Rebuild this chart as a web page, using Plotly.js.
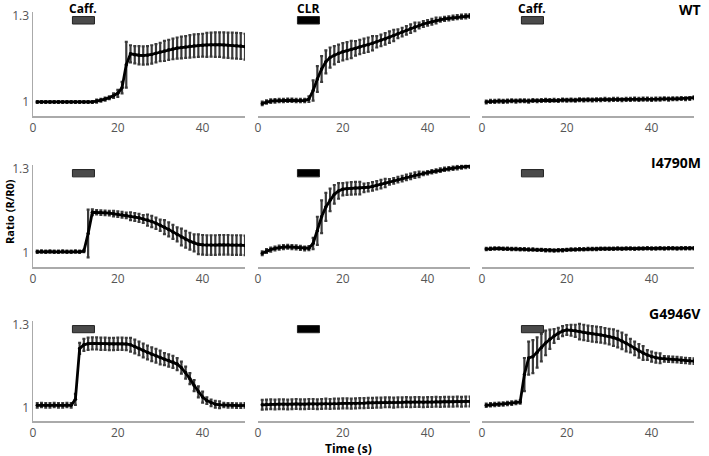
<!DOCTYPE html>
<html><head><meta charset="utf-8">
<script src="https://cdn.plot.ly/plotly-3.0.1.min.js"></script>
<style>html,body{margin:0;padding:0;background:#fff}#chart{width:709px;height:456px}</style>
</head><body><div id="chart"></div>
<script>
// time (s)
const time = [1,2,3,4,5,6,7,8,9,10,11,12,13,14,15,16,17,18,19,20,21,22,23,24,25,26,27,28,29,30,31,32,33,34,35,36,37,38,39,40,41,42,43,44,45,46,47,48,49,50];

// WT
const wtCaffMean = [1.0,1.0,1.0,1.0,1.0,1.0,1.0,1.0,1.0,1.0,1.0,1.0,1.0,1.0,1.003,1.006,1.01,1.015,1.022,1.03,1.05,1.13,1.168,1.165,1.163,1.162,1.163,1.166,1.17,1.174,1.178,1.182,1.185,1.188,1.19,1.192,1.194,1.196,1.197,1.198,1.199,1.2,1.2,1.2,1.199,1.198,1.197,1.196,1.195,1.193];
const wtCaffErr = [0.003,0.003,0.003,0.003,0.003,0.003,0.003,0.003,0.003,0.003,0.003,0.003,0.003,0.003,0.005,0.005,0.005,0.005,0.008,0.012,0.02,0.08,0.03,0.03,0.032,0.032,0.032,0.032,0.032,0.032,0.035,0.035,0.036,0.037,0.038,0.038,0.039,0.04,0.04,0.04,0.042,0.042,0.043,0.043,0.044,0.044,0.045,0.045,0.045,0.045];
const wtClrMean = [0.995,1.0,1.003,1.004,1.005,1.005,1.006,1.006,1.005,1.005,1.005,1.01,1.04,1.08,1.115,1.14,1.155,1.163,1.17,1.175,1.179,1.183,1.187,1.192,1.196,1.2,1.205,1.21,1.215,1.22,1.226,1.232,1.238,1.244,1.25,1.256,1.262,1.267,1.272,1.276,1.28,1.284,1.287,1.29,1.292,1.294,1.296,1.298,1.299,1.3];
const wtClrErr = [0.006,0.006,0.006,0.006,0.006,0.006,0.006,0.006,0.006,0.006,0.006,0.01,0.035,0.045,0.045,0.04,0.035,0.032,0.03,0.03,0.03,0.03,0.025,0.025,0.025,0.025,0.025,0.02,0.02,0.02,0.02,0.02,0.015,0.015,0.015,0.015,0.015,0.01,0.01,0.01,0.01,0.01,0.007,0.007,0.007,0.007,0.007,0.007,0.007,0.007];
const wtCaff2Mean = [1.0,1.002,1.002,1.003,1.002,1.003,1.004,1.003,1.004,1.004,1.003,1.005,1.004,1.005,1.006,1.005,1.006,1.005,1.007,1.006,1.007,1.006,1.008,1.007,1.008,1.007,1.008,1.008,1.009,1.008,1.009,1.009,1.008,1.009,1.009,1.01,1.009,1.01,1.01,1.009,1.01,1.01,1.011,1.01,1.011,1.011,1.012,1.011,1.012,1.015];
const wtCaff2Err = [0.005,0.005,0.005,0.005,0.005,0.005,0.005,0.005,0.005,0.005,0.005,0.005,0.005,0.005,0.005,0.005,0.005,0.005,0.005,0.005,0.005,0.005,0.005,0.005,0.005,0.005,0.005,0.005,0.005,0.005,0.005,0.005,0.005,0.005,0.005,0.005,0.005,0.005,0.005,0.005,0.005,0.005,0.005,0.005,0.005,0.005,0.005,0.005,0.005,0.005];

// I4790M
const i479CaffMean = [1.005,1.006,1.005,1.006,1.005,1.005,1.006,1.005,1.005,1.006,1.005,1.008,1.07,1.146,1.146,1.145,1.144,1.143,1.141,1.139,1.137,1.135,1.132,1.129,1.126,1.122,1.118,1.113,1.107,1.1,1.093,1.085,1.076,1.067,1.058,1.05,1.043,1.037,1.032,1.03,1.029,1.029,1.029,1.03,1.03,1.03,1.029,1.029,1.029,1.028];
const i479CaffErr = [0.004,0.004,0.004,0.004,0.004,0.004,0.004,0.004,0.004,0.004,0.004,0.004,0.085,0.01,0.008,0.008,0.008,0.008,0.01,0.01,0.01,0.01,0.014,0.014,0.014,0.014,0.02,0.02,0.02,0.02,0.025,0.025,0.025,0.025,0.03,0.03,0.03,0.03,0.035,0.035,0.035,0.035,0.035,0.035,0.035,0.035,0.035,0.035,0.035,0.035];
const i479ClrMean = [1.0,1.008,1.013,1.017,1.02,1.022,1.023,1.022,1.021,1.019,1.017,1.018,1.035,1.08,1.13,1.165,1.19,1.21,1.222,1.228,1.23,1.231,1.232,1.232,1.233,1.235,1.238,1.242,1.246,1.25,1.254,1.258,1.262,1.266,1.27,1.274,1.278,1.281,1.284,1.287,1.29,1.293,1.296,1.299,1.301,1.303,1.305,1.307,1.309,1.31];
const i479ClrErr = [0.007,0.007,0.007,0.007,0.007,0.007,0.007,0.007,0.007,0.007,0.007,0.007,0.02,0.05,0.058,0.05,0.04,0.033,0.028,0.022,0.022,0.022,0.022,0.022,0.015,0.015,0.015,0.015,0.015,0.015,0.01,0.01,0.01,0.01,0.01,0.01,0.01,0.01,0.006,0.006,0.006,0.006,0.006,0.006,0.006,0.006,0.006,0.006,0.006,0.006];
const i479Caff2Mean = [1.015,1.016,1.017,1.017,1.016,1.016,1.015,1.015,1.014,1.014,1.013,1.013,1.012,1.012,1.011,1.011,1.01,1.011,1.011,1.012,1.013,1.013,1.014,1.014,1.015,1.015,1.015,1.016,1.016,1.016,1.016,1.017,1.016,1.017,1.017,1.016,1.017,1.017,1.018,1.017,1.017,1.018,1.017,1.018,1.018,1.017,1.018,1.018,1.018,1.018];
const i479Caff2Err = [0.004,0.004,0.004,0.004,0.004,0.004,0.004,0.004,0.004,0.004,0.004,0.004,0.004,0.004,0.004,0.004,0.004,0.004,0.004,0.004,0.004,0.004,0.004,0.004,0.004,0.004,0.004,0.004,0.004,0.004,0.004,0.004,0.004,0.004,0.004,0.004,0.004,0.004,0.004,0.004,0.004,0.004,0.004,0.004,0.004,0.004,0.004,0.004,0.004,0.004];

// G4946V
const g494CaffMean = [1.008,1.009,1.008,1.008,1.009,1.008,1.008,1.009,1.008,1.03,1.215,1.228,1.232,1.233,1.233,1.232,1.232,1.231,1.231,1.232,1.232,1.231,1.228,1.222,1.215,1.207,1.2,1.194,1.188,1.182,1.176,1.171,1.166,1.158,1.145,1.127,1.105,1.08,1.057,1.038,1.025,1.017,1.012,1.01,1.009,1.008,1.008,1.007,1.007,1.008];
const g494CaffErr = [0.008,0.008,0.008,0.008,0.008,0.008,0.008,0.008,0.008,0.02,0.02,0.022,0.022,0.022,0.022,0.022,0.022,0.022,0.022,0.022,0.022,0.022,0.025,0.025,0.025,0.025,0.025,0.025,0.025,0.025,0.022,0.022,0.022,0.022,0.022,0.022,0.02,0.02,0.02,0.02,0.012,0.012,0.012,0.012,0.008,0.008,0.008,0.008,0.008,0.008];
const g494ClrMean = [1.01,1.011,1.012,1.011,1.012,1.012,1.011,1.012,1.013,1.012,1.012,1.013,1.013,1.012,1.013,1.014,1.013,1.014,1.014,1.015,1.015,1.014,1.015,1.016,1.016,1.017,1.017,1.018,1.018,1.019,1.019,1.018,1.019,1.019,1.02,1.019,1.02,1.02,1.019,1.02,1.02,1.021,1.02,1.021,1.021,1.021,1.022,1.021,1.022,1.022];
const g494ClrErr = [0.018,0.018,0.018,0.018,0.018,0.018,0.018,0.018,0.018,0.018,0.018,0.018,0.018,0.018,0.018,0.018,0.018,0.018,0.018,0.018,0.018,0.018,0.018,0.018,0.018,0.018,0.018,0.018,0.018,0.018,0.018,0.018,0.018,0.018,0.018,0.018,0.018,0.018,0.018,0.018,0.018,0.018,0.018,0.018,0.018,0.018,0.018,0.018,0.018,0.018];
const g494Caff2Mean = [1.008,1.01,1.011,1.012,1.013,1.015,1.016,1.018,1.02,1.12,1.18,1.185,1.2,1.218,1.235,1.248,1.26,1.27,1.278,1.282,1.281,1.279,1.276,1.273,1.27,1.268,1.266,1.264,1.261,1.258,1.254,1.249,1.242,1.234,1.225,1.215,1.206,1.198,1.191,1.185,1.181,1.179,1.177,1.176,1.175,1.174,1.172,1.171,1.17,1.169];
const g494Caff2Err = [0.006,0.006,0.006,0.006,0.006,0.006,0.006,0.006,0.006,0.06,0.06,0.06,0.055,0.05,0.045,0.035,0.025,0.02,0.018,0.018,0.02,0.022,0.028,0.028,0.028,0.028,0.028,0.028,0.028,0.028,0.03,0.03,0.03,0.03,0.025,0.025,0.025,0.025,0.018,0.018,0.018,0.018,0.01,0.01,0.01,0.01,0.01,0.01,0.01,0.01];

// stimulus bars
const stimStart = 9.3, stimEnd = 14.5, stimLow = 1.272, stimHigh = 1.298;
const stimColors = ['#4a4a4a', '#000000', '#4a4a4a'];
const stimNames = ['Caff.', 'CLR', 'Caff.'];
const genotypes = ['WT', 'I4790M', 'G4946V'];

const panels = [
  [wtCaffMean, wtCaffErr], [wtClrMean, wtClrErr], [wtCaff2Mean, wtCaff2Err],
  [i479CaffMean, i479CaffErr], [i479ClrMean, i479ClrErr], [i479Caff2Mean, i479Caff2Err],
  [g494CaffMean, g494CaffErr], [g494ClrMean, g494ClrErr], [g494Caff2Mean, g494Caff2Err]
];

const W = 709, H = 456;
const colPx = [[33, 245], [258, 470], [482, 694]];
const rowPx = [[11.7, 116], [164.8, 267], [320.9, 421]];

const data = [];
const layout = {
  width: W, height: H,
  margin: {l: 0, r: 0, t: 0, b: 0},
  paper_bgcolor: '#fff', plot_bgcolor: '#fff',
  showlegend: false,
  font: {family: '"Open Sans", sans-serif', color: '#555', size: 12},
  shapes: [], annotations: []
};

panels.forEach((p, i) => {
  const r = Math.floor(i / 3), c = i % 3;
  const n = i + 1;
  const xa = n === 1 ? 'xaxis' : 'xaxis' + n;
  const ya = n === 1 ? 'yaxis' : 'yaxis' + n;
  const xr = n === 1 ? 'x' : 'x' + n;
  const yr = n === 1 ? 'y' : 'y' + n;
  data.push({
    x: time, y: p[0], xaxis: xr, yaxis: yr,
    type: 'scatter', mode: 'lines+markers',
    line: {color: '#000', width: 2.8},
    marker: {color: '#000', size: 3.5},
    error_y: {type: 'data', array: p[1], visible: true, color: '#3a3a3a', thickness: 2.2, width: 1.5}
  });
  layout[xa] = {
    domain: [colPx[c][0] / W, colPx[c][1] / W],
    range: [0, 50], anchor: yr,
    tickvals: [0, 20, 40], ticks: '', showgrid: false, zeroline: false,
    showline: true, linecolor: '#aaa', linewidth: 1.5,
    tickfont: {size: 12, color: '#555'}
  };
  layout[ya] = {
    domain: [1 - rowPx[r][1] / H, 1 - rowPx[r][0] / H],
    range: [0.951, 1.315], anchor: xr,
    tickvals: [1, 1.3], ticktext: ['1', '1.3'], ticks: '',
    showgrid: false, zeroline: false,
    showline: c === 0, linecolor: '#aaa', linewidth: 1.5,
    showticklabels: c === 0,
    tickfont: {size: 12, color: '#555'}
  };
  layout.shapes.push({
    type: 'rect', xref: xr, yref: yr,
    x0: stimStart, x1: stimEnd, y0: stimLow, y1: stimHigh,
    fillcolor: stimColors[c], line: {color: '#222', width: 1}
  });
});

// stimulus labels
const stimLabelX = [83, 308, 532];
stimNames.forEach((s, c) => {
  layout.annotations.push({
    text: '<b>' + s + '</b>', xref: 'paper', yref: 'paper',
    x: stimLabelX[c] / W, y: 1 - 8 / H, showarrow: false,
    xanchor: 'center', yanchor: 'middle',
    font: {size: 12, color: '#000', family: '"Open Sans", sans-serif'}
  });
});
// genotype labels
const genoY = [10, 163, 313];
genotypes.forEach((g, r) => {
  layout.annotations.push({
    text: '<b>' + g + '</b>', xref: 'paper', yref: 'paper',
    x: 703 / W, y: 1 - genoY[r] / H, showarrow: false,
    xanchor: 'right', yanchor: 'middle',
    font: {size: 14, color: '#000', family: '"Open Sans", sans-serif'}
  });
});
layout.annotations.push({
  text: '<b>Ratio (R/R0)</b>', xref: 'paper', yref: 'paper',
  x: 9 / W, y: 1 - 212 / H, showarrow: false, textangle: -90,
  xanchor: 'center', yanchor: 'middle',
  font: {size: 11, color: '#000', family: '"Open Sans", sans-serif'}
});
layout.annotations.push({
  text: '<b>Time (s)</b>', xref: 'paper', yref: 'paper',
  x: 348 / W, y: 1 - 448.5 / H, showarrow: false,
  xanchor: 'center', yanchor: 'middle',
  font: {size: 12, color: '#000', family: '"Open Sans", sans-serif'}
});

Plotly.newPlot('chart', data, layout, {staticPlot: true, displayModeBar: false});
</script>
</body></html>
